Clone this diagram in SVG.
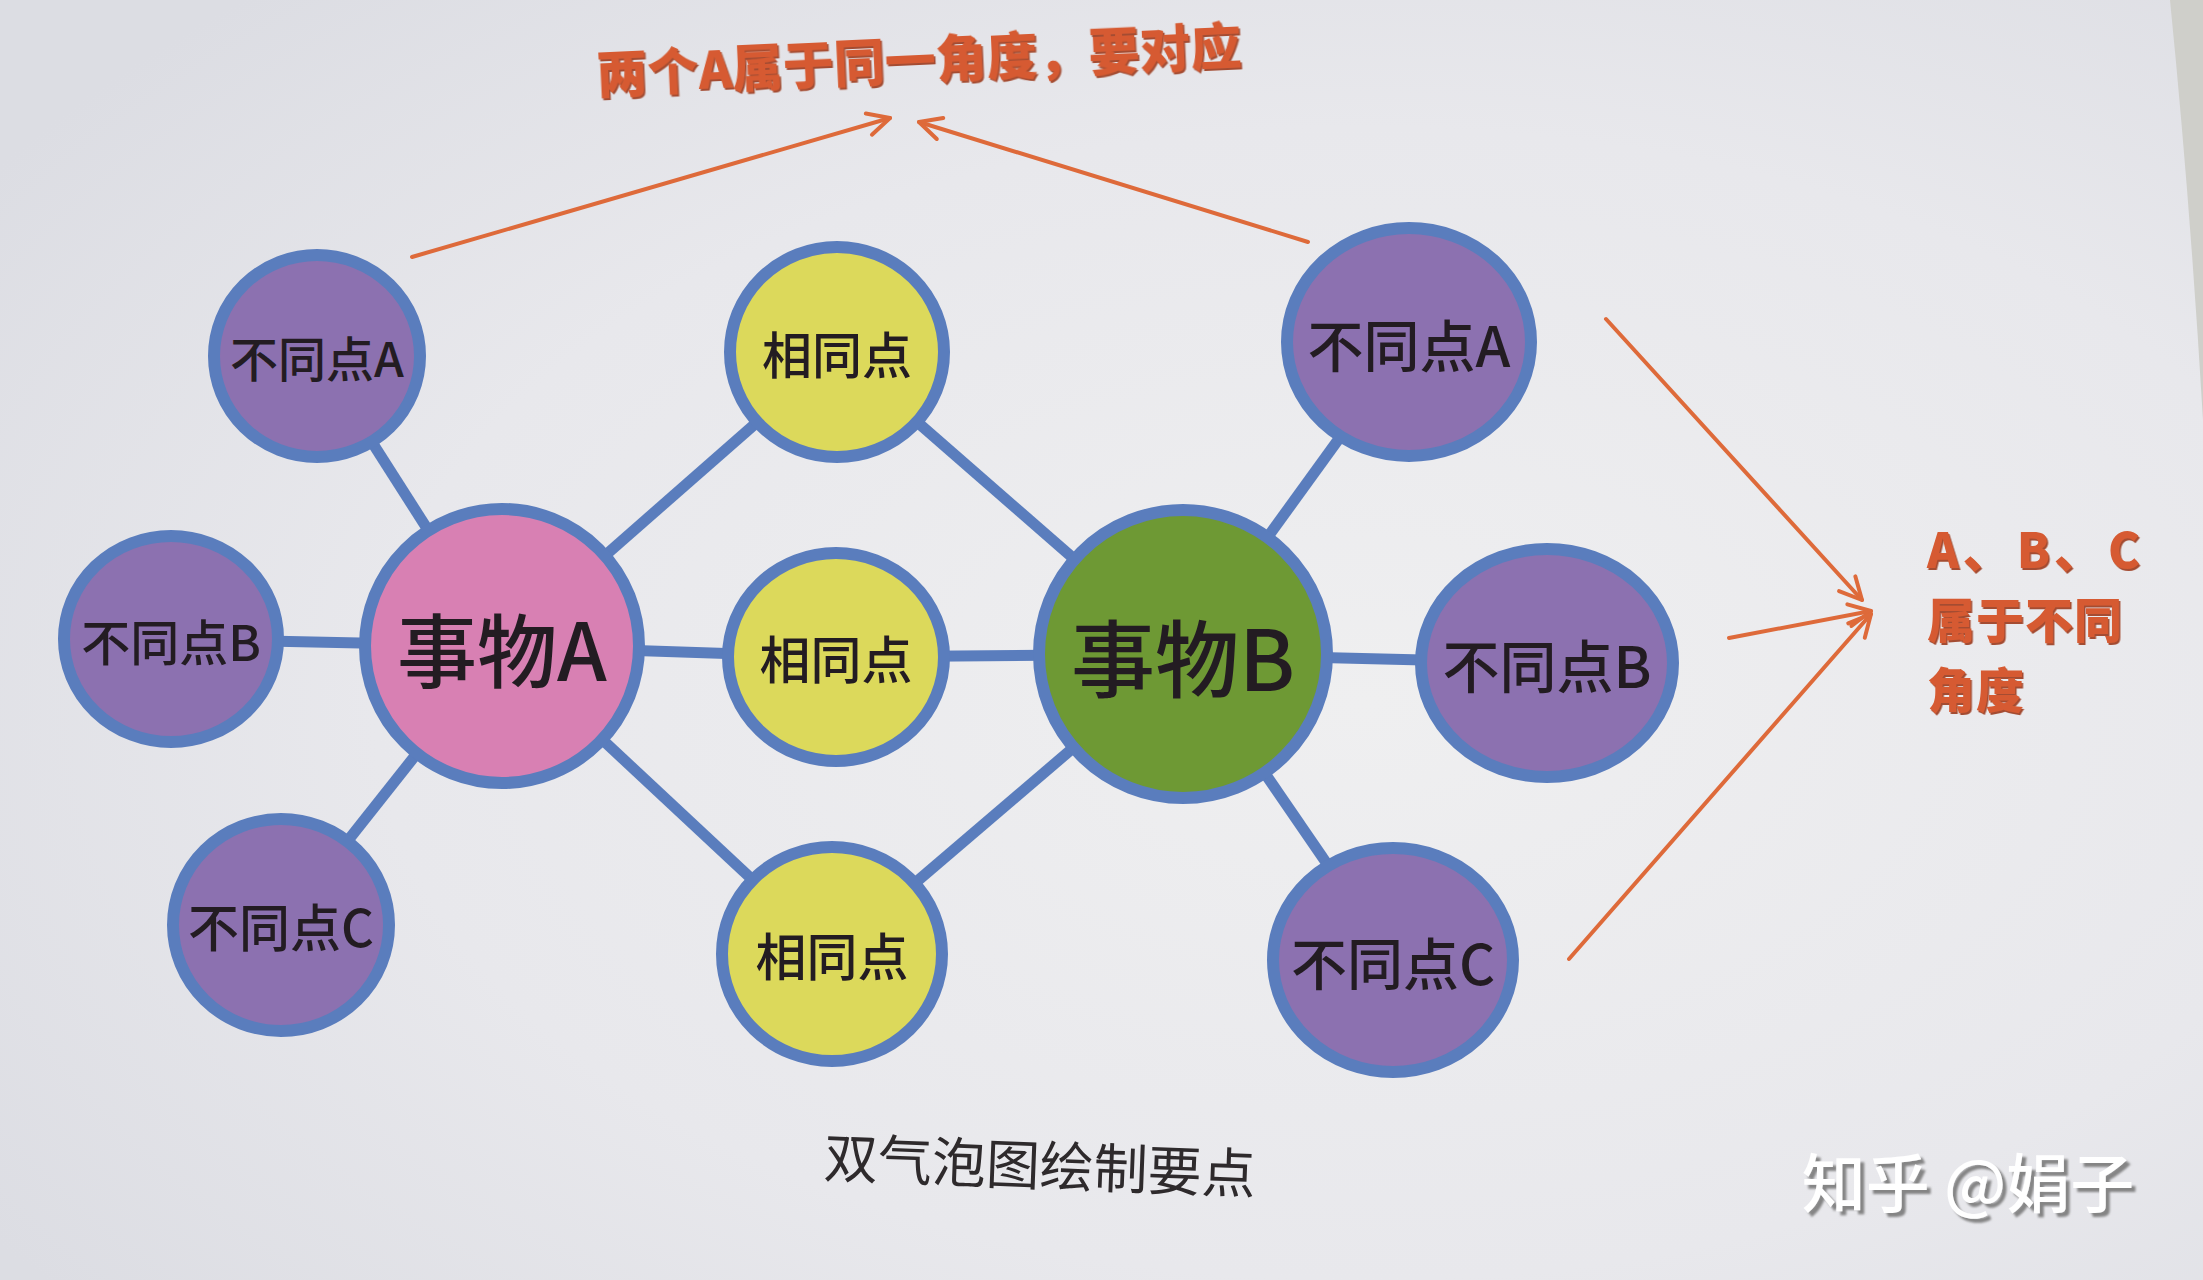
<svg xmlns="http://www.w3.org/2000/svg" width="2203" height="1280" viewBox="0 0 2203 1280">
  <defs>
    <radialGradient id="paper" cx="0.62" cy="0.55" r="0.75">
      <stop offset="0" stop-color="#efeff0"/>
      <stop offset="0.6" stop-color="#e8e8ec"/>
      <stop offset="1" stop-color="#dcdde3"/>
    </radialGradient>
    <filter id="shTitle" x="-5%" y="-30%" width="110%" height="160%">
      <feDropShadow dx="1.5" dy="2" stdDeviation="0.6" flood-color="#9c3a1c" flood-opacity="0.9"/>
    </filter>
    <filter id="shMark" x="-5%" y="-30%" width="110%" height="160%">
      <feDropShadow dx="4" dy="4" stdDeviation="1" flood-color="#7a7a7a" flood-opacity="0.9"/>
    </filter>
    <marker id="ah" viewBox="-26 -14 30 28" markerWidth="30" markerHeight="28" refX="0" refY="0" orient="auto" markerUnits="userSpaceOnUse">
      <path d="M -22 -11 L 0 0 L -22 11" fill="none" stroke="#de6a3a" stroke-width="4" stroke-linecap="round" stroke-linejoin="round"/>
    </marker>
    <style>
      .bub { stroke: #5a7dbd; stroke-width: 12; }
      .diff { fill: #8c71b0; }
      .same { fill: #dcd95b; }
      .thA { fill: #d880b3; }
      .thB { fill: #6e9934; }
      .lbl { font-family: "Noto Sans CJK SC", "Noto Sans", sans-serif; font-weight: 500; fill: #231c22; text-anchor: middle; dominant-baseline: central; }
      .link { stroke: #5a7dbd; stroke-width: 11; fill: none; }
      .arr { stroke: #de6a3a; stroke-width: 4; fill: none; stroke-linecap: round; }
      .note { font-family: "Noto Sans CJK SC", "Noto Sans", sans-serif; font-weight: 900; fill: #d65a30; }
    </style>
  </defs>

  <rect x="0" y="0" width="2203" height="1280" fill="url(#paper)"/>
  <path d="M 2170 0 Q 2190 200 2203 420 L 2203 0 Z" fill="#cfcfca"/>

  <g id="connectors">
    <line class="link" x1="317" y1="356" x2="502" y2="646"/>
    <line class="link" x1="171" y1="639" x2="502" y2="646"/>
    <line class="link" x1="281" y1="925" x2="502" y2="646"/>
    <line class="link" x1="502" y1="646" x2="837" y2="352"/>
    <line class="link" x1="502" y1="646" x2="836" y2="657"/>
    <line class="link" x1="502" y1="646" x2="832" y2="954"/>
    <line class="link" x1="837" y1="352" x2="1183" y2="654"/>
    <line class="link" x1="836" y1="657" x2="1183" y2="654"/>
    <line class="link" x1="832" y1="954" x2="1183" y2="654"/>
    <line class="link" x1="1183" y1="654" x2="1409" y2="342"/>
    <line class="link" x1="1183" y1="654" x2="1547" y2="663"/>
    <line class="link" x1="1183" y1="654" x2="1393" y2="960"/>
  </g>

  <g id="node-diffA-left">
    <ellipse class="bub diff" cx="317" cy="356" rx="103" ry="101"/>
    <text class="lbl" x="317" y="356" font-size="48">不同点A</text>
  </g>
  <g id="node-diffB-left">
    <ellipse class="bub diff" cx="171" cy="639" rx="107" ry="103"/>
    <text class="lbl" x="171" y="639" font-size="49">不同点B</text>
  </g>
  <g id="node-diffC-left">
    <ellipse class="bub diff" cx="281" cy="925" rx="108" ry="106"/>
    <text class="lbl" x="281" y="925" font-size="51">不同点C</text>
  </g>
  <g id="node-thingA">
    <circle class="bub thA" cx="502" cy="646" r="137"/>
    <text class="lbl" x="502" y="646" font-size="80">事物A</text>
  </g>
  <g id="node-same1">
    <ellipse class="bub same" cx="837" cy="352" rx="107" ry="105"/>
    <text class="lbl" x="837" y="352" font-size="50">相同点</text>
  </g>
  <g id="node-same2">
    <ellipse class="bub same" cx="836" cy="657" rx="108" ry="104"/>
    <text class="lbl" x="836" y="657" font-size="51">相同点</text>
  </g>
  <g id="node-same3">
    <ellipse class="bub same" cx="832" cy="954" rx="110" ry="107"/>
    <text class="lbl" x="832" y="954" font-size="51">相同点</text>
  </g>
  <g id="node-thingB">
    <circle class="bub thB" cx="1183" cy="654" r="144"/>
    <text class="lbl" x="1183" y="654" font-size="84">事物B</text>
  </g>
  <g id="node-diffA-right">
    <ellipse class="bub diff" cx="1409" cy="342" rx="122" ry="114"/>
    <text class="lbl" x="1409" y="342" font-size="56">不同点A</text>
  </g>
  <g id="node-diffB-right">
    <ellipse class="bub diff" cx="1547" cy="663" rx="126" ry="114"/>
    <text class="lbl" x="1547" y="663" font-size="57">不同点B</text>
  </g>
  <g id="node-diffC-right">
    <ellipse class="bub diff" cx="1393" cy="960" rx="120" ry="112"/>
    <text class="lbl" x="1393" y="960" font-size="56">不同点C</text>
  </g>

  <g id="annotation-arrows">
    <line class="arr" x1="412" y1="257" x2="890" y2="118" marker-end="url(#ah)"/>
    <line class="arr" x1="1308" y1="242" x2="919" y2="122" marker-end="url(#ah)"/>
    <line class="arr" x1="1606" y1="319" x2="1862" y2="600" marker-end="url(#ah)"/>
    <line class="arr" x1="1729" y1="638" x2="1871" y2="611" marker-end="url(#ah)"/>
    <line class="arr" x1="1569" y1="959" x2="1871" y2="614" marker-end="url(#ah)"/>
  </g>

  <g id="note-top" transform="rotate(-2.6 919 62)">
    <text class="note" x="919" y="79" font-size="51" text-anchor="middle" filter="url(#shTitle)">两个A属于同一角度，要对应</text>
  </g>

  <g id="note-right">
    <text class="note" font-size="48" filter="url(#shTitle)"><tspan x="1927" y="568">A<tspan dx="4">、</tspan><tspan dx="6">B</tspan><tspan dx="4">、</tspan><tspan dx="6">C</tspan></tspan><tspan x="1927" y="638" letter-spacing="1">属于不同</tspan><tspan x="1927" y="708" letter-spacing="1">角度</tspan></text>
  </g>

  <g id="caption">
    <text x="1040" y="1162" font-family="Noto Sans CJK SC, Noto Sans, sans-serif" font-size="54" font-weight="400" fill="#2e2a2c" text-anchor="middle" dominant-baseline="central" transform="rotate(2.2 1040 1162)">双气泡图绘制要点</text>
  </g>

  <g id="watermark">
    <text x="1968" y="1207" font-family="Noto Sans CJK SC, Noto Sans, sans-serif" font-size="64" font-weight="500" fill="#ffffff" text-anchor="middle" filter="url(#shMark)">知乎 @娟子</text>
  </g>
</svg>
